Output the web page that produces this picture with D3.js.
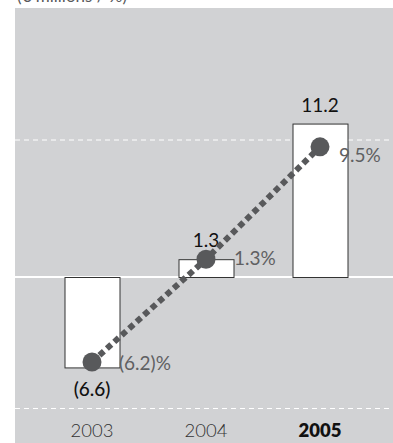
<!DOCTYPE html>
<html><head><meta charset="utf-8">
<script src="https://cdn.jsdelivr.net/npm/d3@7"></script>
<style>html,body{margin:0;padding:0;background:#fff;}svg{display:block;}</style>
</head><body>
<svg id="c" width="393" height="443"></svg>
<script>
const years = ["2003", "2004", "2005"];
const values = [-6.6, 1.3, 11.2];
const valueLabels = ["(6.6)", "1.3", "11.2"];
const pct = [-6.2, 1.3, 9.5];
const pctLabels = ["(6.2)%", "1.3%", "9.5%"];
const gridValues = [10, -9.6];

const svg = d3.select("#c");
const W = 393, H = 443;
const panel = {x: 15, y: 8};
const y0 = 277, k = 13.7;
const y = d3.scaleLinear().domain([-12, 12]).range([y0 + 12 * k, y0 - 12 * k]);
const x = d3.scalePoint().domain(years).range([92, 320]);
const barW = 55;

svg.append("text").attr("x", 17).attr("y", 2).attr("font-family", "Lato").attr("font-size", 17)
  .attr("fill", "#58595b").text("(€ millions / %)");

svg.append("rect").attr("x", panel.x).attr("y", panel.y).attr("width", W - panel.x).attr("height", H - panel.y)
  .attr("fill", "#d1d2d4");

svg.selectAll(".grid").data(gridValues).join("line").attr("class", "grid")
  .attr("x1", panel.x).attr("x2", W).attr("y1", d => y(d)).attr("y2", d => y(d))
  .attr("stroke", "#fff").attr("stroke-width", 1).attr("stroke-dasharray", "5,4");

svg.append("line").attr("x1", panel.x).attr("x2", W).attr("y1", y(0)).attr("y2", y(0))
  .attr("stroke", "#fff").attr("stroke-width", 2);

svg.selectAll(".bar").data(values).join("rect").attr("class", "bar")
  .attr("x", (d, i) => x(years[i]) - barW / 2 + 0.5)
  .attr("y", d => Math.min(y(d), y(0)) + 0.5)
  .attr("width", barW)
  .attr("height", d => Math.abs(y(d) - y(0)))
  .attr("fill", "#fff").attr("stroke", "#333").attr("stroke-width", 1);

svg.selectAll(".vlab").data(values).join("text").attr("class", "vlab")
  .attr("x", (d, i) => x(years[i]))
  .attr("y", d => d >= 0 ? y(d) - 12 : y(d) + 29)
  .attr("text-anchor", "middle").attr("font-family", "Lato").attr("font-size", 19)
  .attr("font-weight", d => d >= 0 ? 400 : 500)
  .attr("fill", "#111").text((d, i) => valueLabels[i]);

const line = d3.line().x((d, i) => x(years[i])).y(d => y(d));
svg.append("path").datum(pct).attr("d", line).attr("fill", "none")
  .attr("stroke", "#58595b").attr("stroke-width", 6).attr("stroke-dasharray", "6,4");

svg.selectAll(".dot").data(pct).join("circle").attr("class", "dot")
  .attr("cx", (d, i) => x(years[i])).attr("cy", d => y(d)).attr("r", 9.5)
  .attr("fill", "#58595b");

const pdx = [27, 28, 19], pdy = [8, 6, 15];
svg.selectAll(".plab").data(pct).join("text").attr("class", "plab")
  .attr("x", (d, i) => x(years[i]) + pdx[i]).attr("y", (d, i) => y(d) + pdy[i])
  .attr("font-family", "Lato").attr("font-size", 19).attr("fill", "#5f6062")
  .text((d, i) => pctLabels[i]);

svg.selectAll(".xlab").data(years).join("text").attr("class", "xlab")
  .attr("x", d => x(d)).attr("y", 437).attr("text-anchor", "middle")
  .attr("font-family", "Lato").attr("font-size", 18.5)
  .attr("font-weight", (d, i) => i === years.length - 1 ? 800 : 300)
  .attr("fill", (d, i) => i === years.length - 1 ? "#111" : "#333")
  .text(d => d);
</script>
</body></html>
